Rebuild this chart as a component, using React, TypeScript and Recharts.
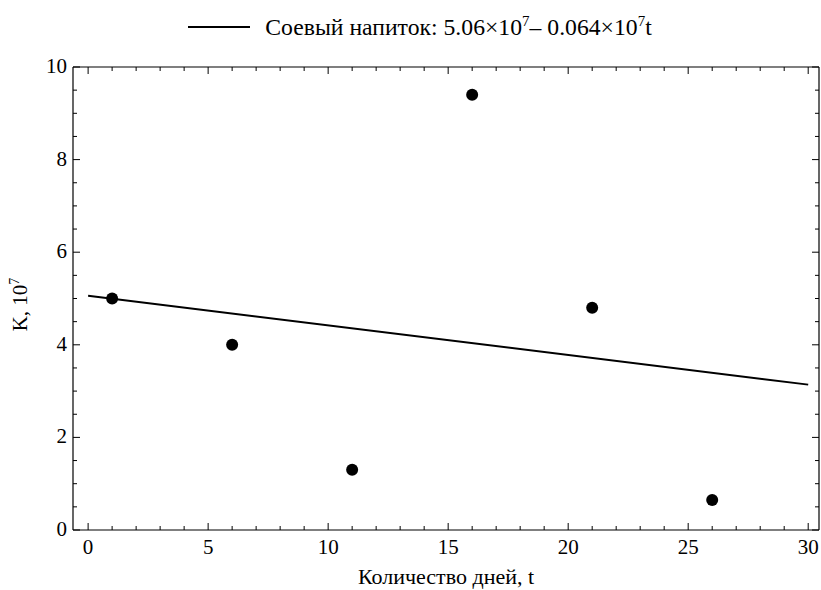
import { ComposedChart, Line, Scatter, XAxis, YAxis, Legend } from 'recharts';

// measured points: days vs K (×10^7)
const days = [1, 6, 11, 16, 21, 26];
const kValues = [5.0, 4.0, 1.3, 9.4, 4.8, 0.65];

// regression line endpoints (5.06 - 0.064t)
const fitDays = [0, 30];
const fitValues = [5.06, 3.14];

const xTicks = [0, 1, 2, 3, 4, 5, 6, 7, 8, 9, 10, 11, 12, 13, 14, 15, 16, 17, 18, 19, 20, 21, 22, 23, 24, 25, 26, 27, 28, 29, 30];
const xLabels = [0, 5, 10, 15, 20, 25, 30];
const yTicks = [0, 0.5, 1, 1.5, 2, 2.5, 3, 3.5, 4, 4.5, 5, 5.5, 6, 6.5, 7, 7.5, 8, 8.5, 9, 9.5, 10];
const yLabels = [0, 2, 4, 6, 8, 10];

const points = days.map((t, i) => ({ t, k: kValues[i] }));
const fit = fitDays.map((t, i) => ({ t, fit: fitValues[i] }));

const FONT = 'Liberation Serif';
const MAJOR = 7;
const MINOR = 4;

const bottomTick = ({ x, y, payload }: any) => {
  const v = payload.value;
  const major = xLabels.includes(v);
  return (
    <g key={`b${v}`}>
      <line x1={x} x2={x} y1={y} y2={y - (major ? MAJOR : MINOR)} stroke='#000' />
      {major && (
        <text x={x} y={y + 24} textAnchor='middle' fontFamily={FONT} fontSize={21} fill='#000'>
          {v}
        </text>
      )}
    </g>
  );
};

const topTick = ({ x, y, payload }: any) => {
  const major = xLabels.includes(payload.value);
  return <line key={`t${payload.value}`} x1={x} x2={x} y1={y} y2={y + (major ? MAJOR : MINOR)} stroke='#000' />;
};

const leftTick = ({ x, y, payload }: any) => {
  const v = payload.value;
  const major = yLabels.includes(v);
  return (
    <g key={`l${v}`}>
      <line x1={x} x2={x + (major ? MAJOR : MINOR)} y1={y} y2={y} stroke='#000' />
      {major && (
        <text x={x - 6} y={y + 6} textAnchor='end' fontFamily={FONT} fontSize={21} fill='#000'>
          {v}
        </text>
      )}
    </g>
  );
};

const rightTick = ({ x, y, payload }: any) => {
  const major = yLabels.includes(payload.value);
  return <line key={`r${payload.value}`} x1={x} x2={x - (major ? MAJOR : MINOR)} y1={y} y2={y} stroke='#000' />;
};

function YLabel({ viewBox }: any) {
  const cx = viewBox.x + 27;
  const cy = viewBox.y + viewBox.height / 2 + 6;
  return (
    <text x={cx} y={cy} transform={`rotate(-90 ${cx} ${cy})`} textAnchor='middle' fontFamily={FONT} fontSize={21} fill='#000'>
      K, 10<tspan fontSize={14} dy={-8}>7</tspan>
    </text>
  );
}

function XLabel({ viewBox }: any) {
  const cx = viewBox.x + viewBox.width / 2;
  return (
    <text x={cx} y={viewBox.y + 54} textAnchor='middle' fontFamily={FONT} fontSize={22} fill='#000'>
      Количество дней, t
    </text>
  );
}

function LegendContent() {
  return (
    <div style={{ height: 40, paddingLeft: 19, display: 'flex', alignItems: 'center', justifyContent: 'center', fontFamily: FONT, fontSize: 23.7, color: '#000' }}>
      <svg width={62} height={4} style={{ marginRight: 15 }}>
        <line x1={0} x2={62} y1={2} y2={2} stroke='#000' strokeWidth={2} />
      </svg>
      <span>
        Соевый напиток: 5.06×10<sup style={{ fontSize: 15 }}>7</sup>– 0.064×10<sup style={{ fontSize: 15 }}>7</sup>t
      </span>
    </div>
  );
}

export default function App() {
  return (
    <div>
      <style>{`body{margin:0}`}</style>
      <ComposedChart width={821} height={590} margin={{ top: 26, right: 1, left: 0, bottom: 0 }}>
        <Legend verticalAlign='top' content={<LegendContent />} wrapperStyle={{ top: 7, left: 0, width: 821 }} />
        <XAxis
          dataKey='t'
          type='number'
          domain={[-0.63, 30.45]}
          ticks={xTicks}
          interval={0}
          tick={bottomTick}
          tickLine={false}
          tickSize={0}
          tickMargin={0}
          height={60}
          axisLine={{ stroke: '#000', strokeWidth: 1.2 }}
          allowDataOverflow
          label={<XLabel />}
        />
        <XAxis
          xAxisId='top'
          dataKey='t'
          orientation='top'
          type='number'
          domain={[-0.63, 30.45]}
          ticks={xTicks}
          interval={0}
          tick={topTick}
          tickLine={false}
          tickSize={0}
          tickMargin={0}
          height={1}
          axisLine={{ stroke: '#000', strokeWidth: 1.2 }}
          allowDataOverflow
        />
        <YAxis
          type='number'
          domain={[0, 10]}
          ticks={yTicks}
          interval={0}
          tick={leftTick}
          tickLine={false}
          tickSize={0}
          tickMargin={0}
          width={73}
          axisLine={{ stroke: '#000', strokeWidth: 1.2 }}
          allowDataOverflow
          label={<YLabel />}
        />
        <YAxis
          yAxisId='right'
          orientation='right'
          type='number'
          domain={[0, 10]}
          ticks={yTicks}
          interval={0}
          tick={rightTick}
          tickLine={false}
          tickSize={0}
          tickMargin={0}
          width={1}
          axisLine={{ stroke: '#000', strokeWidth: 1.2 }}
          allowDataOverflow
        />
        <Line
          data={fit}
          dataKey='fit'
          xAxisId='top'
          yAxisId='right'
          stroke='#000'
          strokeWidth={2}
          dot={false}
          isAnimationActive={false}
        />
        <Scatter
          data={points}
          dataKey='k'
          fill='#000'
          shape={(p: any) => <circle cx={p.cx} cy={p.cy} r={6} fill='#000' />}
          isAnimationActive={false}
        />
      </ComposedChart>
    </div>
  );
}
